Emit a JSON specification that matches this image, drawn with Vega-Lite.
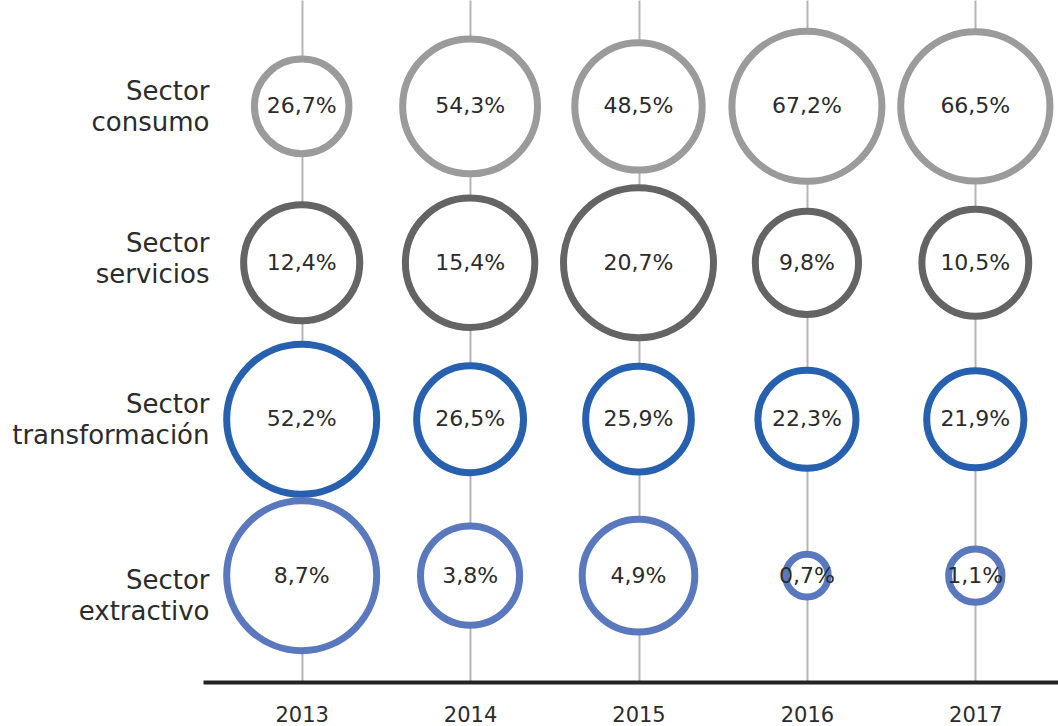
{
  "$schema": "https://vega.github.io/schema/vega-lite/v6.json",
  "autosize": {"type": "none"},
  "padding": {"left": 203, "top": 0, "right": 0, "bottom": 44},
  "width": 871,
  "height": 682,
  "background": "white",
  "config": {
    "view": {"stroke": null},
    "font": "DejaVu Sans",
    "locale": {"number": {"decimal": ",", "thousands": ".", "grouping": [3], "currency": ["", " €"]}}
  },
  "data": {
    "values": [
      {"year": "2013", "sector": "Sector consumo", "value": 0.267},
      {"year": "2013", "sector": "Sector servicios", "value": 0.124},
      {"year": "2013", "sector": "Sector transformación", "value": 0.522},
      {"year": "2013", "sector": "Sector extractivo", "value": 0.087},
      {"year": "2014", "sector": "Sector consumo", "value": 0.543},
      {"year": "2014", "sector": "Sector servicios", "value": 0.154},
      {"year": "2014", "sector": "Sector transformación", "value": 0.265},
      {"year": "2014", "sector": "Sector extractivo", "value": 0.038},
      {"year": "2015", "sector": "Sector consumo", "value": 0.485},
      {"year": "2015", "sector": "Sector servicios", "value": 0.207},
      {"year": "2015", "sector": "Sector transformación", "value": 0.259},
      {"year": "2015", "sector": "Sector extractivo", "value": 0.049},
      {"year": "2016", "sector": "Sector consumo", "value": 0.672},
      {"year": "2016", "sector": "Sector servicios", "value": 0.098},
      {"year": "2016", "sector": "Sector transformación", "value": 0.223},
      {"year": "2016", "sector": "Sector extractivo", "value": 0.007},
      {"year": "2017", "sector": "Sector consumo", "value": 0.665},
      {"year": "2017", "sector": "Sector servicios", "value": 0.105},
      {"year": "2017", "sector": "Sector transformación", "value": 0.219},
      {"year": "2017", "sector": "Sector extractivo", "value": 0.011}
    ]
  },
  "encoding": {
    "x": {
      "field": "year", "type": "ordinal",
      "scale": {"type": "point", "padding": 0.586},
      "axis": {
        "title": null, "domain": true, "domainColor": "#222222", "domainWidth": 4,
        "ticks": false, "tickSize": 0, "grid": true, "gridColor": "#b5b5b5", "gridWidth": 2,
        "labelFontSize": 21, "labelColor": "#2b2b2b", "labelPadding": 39,
        "labelBaseline": "alphabetic", "labelAngle": 0, "labelFontWeight": "normal", "labelOverlap": false
      }
    },
    "y": {
      "field": "sector", "type": "nominal",
      "sort": ["Sector consumo", "Sector servicios", "Sector transformación", "Sector extractivo"],
      "scale": {"type": "point", "padding": 0.68},
      "axis": {
        "title": null, "domain": false, "ticks": false, "tickSize": 0, "grid": false,
        "labelFontSize": 26, "labelColor": "#2b2b2b", "labelPadding": -6,
        "labelAlign": "right", "labelBaseline": "middle", "labelLineHeight": 31,
        "labelLimit": 0, "labelOverlap": false, "labelFontWeight": "normal",
        "labelOffset": {
          "condition": [
            {"test": "datum.value == 'Sector servicios'", "value": -19},
            {"test": "datum.value == 'Sector extractivo'", "value": 5}
          ],
          "value": -15
        },
        "labelExpr": "split(datum.label, ' ')"
      }
    }
  },
  "layer": [
    {
      "transform": [{"filter": "datum.sector == 'Sector consumo'"}],
      "mark": {"type": "point", "shape": "circle", "filled": true, "fill": "white", "stroke": "#9b9b9b", "strokeWidth": 7, "opacity": 1},
      "encoding": {"size": {"field": "value", "type": "quantitative", "scale": {"zero": true, "nice": false, "range": [0, 22500]}, "legend": null}}
    },
    {
      "transform": [{"filter": "datum.sector == 'Sector servicios'"}],
      "mark": {"type": "point", "shape": "circle", "filled": true, "fill": "white", "stroke": "#646464", "strokeWidth": 7, "opacity": 1},
      "encoding": {"size": {"field": "value", "type": "quantitative", "scale": {"zero": true, "nice": false, "range": [0, 22500]}, "legend": null}}
    },
    {
      "transform": [{"filter": "datum.sector == 'Sector transformación'"}],
      "mark": {"type": "point", "shape": "circle", "filled": true, "fill": "white", "stroke": "#2660ae", "strokeWidth": 7, "opacity": 1},
      "encoding": {"size": {"field": "value", "type": "quantitative", "scale": {"zero": true, "nice": false, "range": [0, 22500]}, "legend": null}}
    },
    {
      "transform": [{"filter": "datum.sector == 'Sector extractivo'"}],
      "mark": {"type": "point", "shape": "circle", "filled": true, "fill": "white", "stroke": "#5a78bd", "strokeWidth": 7, "opacity": 1},
      "encoding": {"size": {"field": "value", "type": "quantitative", "scale": {"zero": true, "nice": false, "range": [0, 22500]}, "legend": null}}
    },
    {
      "mark": {"type": "text", "fontSize": 22, "color": "#2b2b2b", "fontWeight": "normal"},
      "encoding": {"text": {"field": "value", "type": "quantitative", "format": ".1%"}}
    }
  ],
  "resolve": {"scale": {"size": "independent"}}
}
